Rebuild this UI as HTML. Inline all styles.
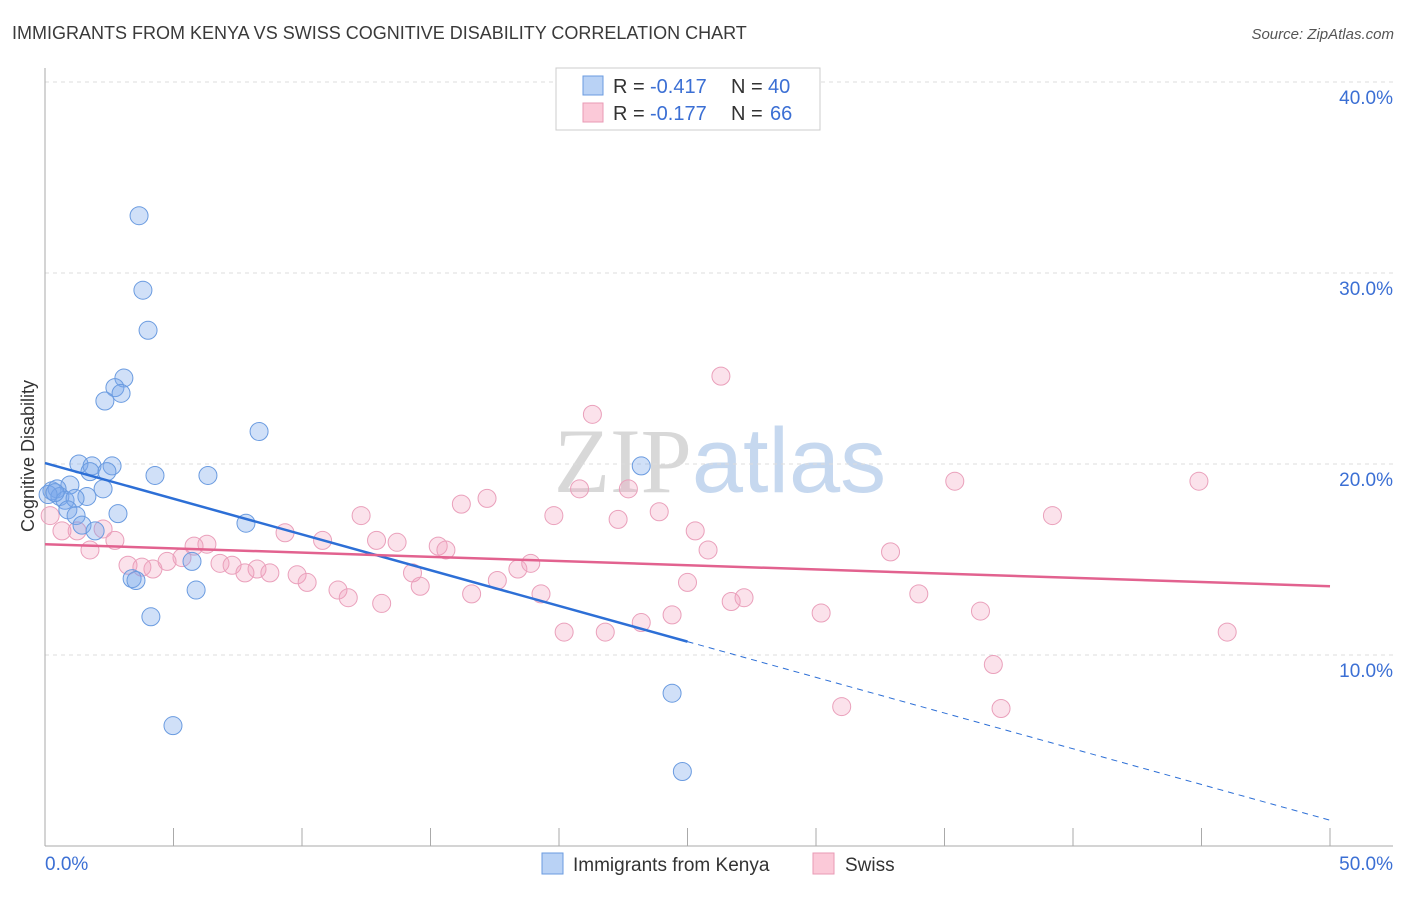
<!DOCTYPE html>
<html><head><meta charset="utf-8"><style>
body{margin:0;background:#fff;font-family:"Liberation Sans",sans-serif;}
svg text{font-family:"Liberation Sans",sans-serif;}
</style></head><body>
<svg id="chart" width="1406" height="892" viewBox="0 0 1406 892" xmlns="http://www.w3.org/2000/svg">
<text x="12" y="39" font-size="18" fill="#3a3a3a">IMMIGRANTS FROM KENYA VS SWISS COGNITIVE DISABILITY CORRELATION CHART</text>
<text x="1394" y="39" font-size="15" fill="#555" text-anchor="end" font-style="italic">Source: ZipAtlas.com</text>
<text x="720" y="492" font-size="92" text-anchor="middle" fill="#dde3ea"><tspan font-family="Liberation Serif" fill="#d8d8d8">ZIP</tspan><tspan fill="#c6d8ef">atlas</tspan></text>
<g id="grid"></g>
<g id="axes"></g>
<g id="pts"></g>
<g id="trend"></g>
<text transform="translate(34,456) rotate(-90)" font-size="18" fill="#333" text-anchor="middle">Cognitive Disability</text>
<g>
<rect x="556" y="68" width="264" height="62" fill="#fff" stroke="#ccc"/>
<rect x="583" y="76" width="20" height="19" fill="#b9d2f5" stroke="#6a9be0"/>
<rect x="583" y="103" width="20" height="19" fill="#fbc9d8" stroke="#e89ab5"/>
<text x="613" y="93" font-size="20" fill="#333">R =</text>
<text x="650" y="93" font-size="20" fill="#3b6fd4">-0.417</text>
<text x="731" y="93" font-size="20" fill="#333">N =</text>
<text x="768" y="93" font-size="20" fill="#3b6fd4">40</text>
<text x="613" y="120" font-size="20" fill="#333">R =</text>
<text x="650" y="120" font-size="20" fill="#3b6fd4">-0.177</text>
<text x="731" y="120" font-size="20" fill="#333">N =</text>
<text x="770" y="120" font-size="20" fill="#3b6fd4">66</text>
</g>
<g>
<rect x="542" y="853" width="21" height="21" fill="#b9d2f5" stroke="#6a9be0"/>
<text x="573" y="871" font-size="19" fill="#333">Immigrants from Kenya</text>
<rect x="813" y="853" width="21" height="21" fill="#fbc9d8" stroke="#e89ab5"/>
<text x="845" y="871" font-size="19" fill="#333">Swiss</text>
</g>
</svg>
<script>
const blueX=[3.66,3.81,4.01,3.07,2.72,2.96,2.33,8.33,1.32,1.83,2.61,1.75,2.41,4.28,6.34,23.2,0.97,0.27,0.47,2.26,0.58,0.78,0.12,1.63,1.17,0.89,1.21,2.84,1.44,1.95,7.82,5.72,3.39,3.54,5.88,4.12,4.98,24.4,24.8,0.39];
const blueY=[33.0,29.1,27.0,24.5,24.0,23.7,23.3,21.7,20.0,19.9,19.9,19.6,19.6,19.4,19.4,19.9,18.9,18.6,18.7,18.7,18.3,18.1,18.4,18.3,18.2,17.6,17.3,17.4,16.8,16.5,16.9,14.9,14.0,13.9,13.4,12.0,6.3,8.0,3.9,18.5];
const pinkX=[26.3,21.3,17.2,16.2,20.8,22.7,12.3,19.8,22.3,23.9,35.4,44.9,39.2,25.3,25.8,32.9,9.34,10.8,12.9,13.7,15.3,15.6,6.30,5.80,2.72,2.26,1.25,1.75,5.33,4.75,4.20,3.23,3.77,6.81,7.28,8.25,7.78,8.75,9.81,10.2,11.4,11.8,13.1,14.6,14.3,16.6,17.6,18.4,18.9,19.3,20.2,21.8,23.2,24.4,25.0,26.7,27.2,30.2,34.0,36.4,46.0,36.9,31.0,37.2,0.2,0.66];
const pinkY=[24.6,22.6,18.2,17.9,18.7,18.7,17.3,17.3,17.1,17.5,19.1,19.1,17.3,16.5,15.5,15.4,16.4,16.0,16.0,15.9,15.7,15.5,15.8,15.7,16.0,16.6,16.5,15.5,15.1,14.9,14.5,14.7,14.6,14.8,14.7,14.5,14.3,14.3,14.2,13.8,13.4,13.0,12.7,13.6,14.3,13.2,13.9,14.5,14.8,13.2,11.2,11.2,11.7,12.1,13.8,12.8,13.0,12.2,13.2,12.3,11.2,9.5,7.3,7.2,17.3,16.5];
const yTicks=[10,20,30,40];
const yTickLabels=["10.0%","20.0%","30.0%","40.0%"];
const xTicks=[0,5,10,15,20,25,30,35,40,45,50];
const blueTrend=[20.05,-0.374]; // intercept, slope
const pinkTrend=[15.8,-0.044];
const blueSolidEnd=25;

const NS="http://www.w3.org/2000/svg";
const X=v=>45+v*25.7;
const Y=v=>846-v*19.1;
function mk(tag,attrs,parent){const e=document.createElementNS(NS,tag);for(const k in attrs)e.setAttribute(k,attrs[k]);document.getElementById(parent).appendChild(e);return e;}

yTicks.forEach((t,i)=>{
  const l=mk('line',{x1:45,x2:1393,y1:Y(t),y2:Y(t),stroke:'#ddd','stroke-dasharray':'4,4'},'grid');
  
  
  const tx=mk('text',{x:1393,y:Y(t)+22,'font-size':19,fill:'#3b6fd4','text-anchor':'end'},'grid');
  tx.textContent=yTickLabels[i];
  
  
});
const ax=mk('line',{x1:45,x2:45,y1:68,y2:846,stroke:'#aaa'},'axes');


const bx=mk('line',{x1:45,x2:1393,y1:846,y2:846,stroke:'#aaa'},'axes');


xTicks.forEach(t=>{
  const l=mk('line',{x1:X(t),x2:X(t),y1:828,y2:846,stroke:'#aaa'},'axes');
  
  
});
const x0=mk('text',{x:45,y:870,'font-size':19,fill:'#3b6fd4'},'axes');x0.textContent='0.0%';


const x1=mk('text',{x:1393,y:870,'font-size':19,fill:'#3b6fd4','text-anchor':'end'},'axes');x1.textContent='50.0%';



pinkX.forEach((v,i)=>{
  const c=mk('circle',{cx:X(v),cy:Y(pinkY[i]),r:9,fill:'rgba(243,160,190,0.3)',stroke:'#eaa0bb','stroke-width':1},'pts');
  
  
});
blueX.forEach((v,i)=>{
  const c=mk('circle',{cx:X(v),cy:Y(blueY[i]),r:9,fill:'rgba(120,165,235,0.35)',stroke:'#6a9be0','stroke-width':1},'pts');
  
  
});
const bt=v=>blueTrend[0]+blueTrend[1]*v, pt=v=>pinkTrend[0]+pinkTrend[1]*v;
const l1=mk('line',{x1:X(0),y1:Y(bt(0)),x2:X(blueSolidEnd),y2:Y(bt(blueSolidEnd)),stroke:'#2d6fd6','stroke-width':2.5},'trend');


const l2=mk('line',{x1:X(blueSolidEnd),y1:Y(bt(blueSolidEnd)),x2:X(50),y2:Y(bt(50)),stroke:'#2d6fd6','stroke-width':1,'stroke-dasharray':'6,5'},'trend');


const l3=mk('line',{x1:X(0),y1:Y(pt(0)),x2:X(50),y2:Y(pt(50)),stroke:'#e2628f','stroke-width':2.5},'trend');


</script>
</body></html>
